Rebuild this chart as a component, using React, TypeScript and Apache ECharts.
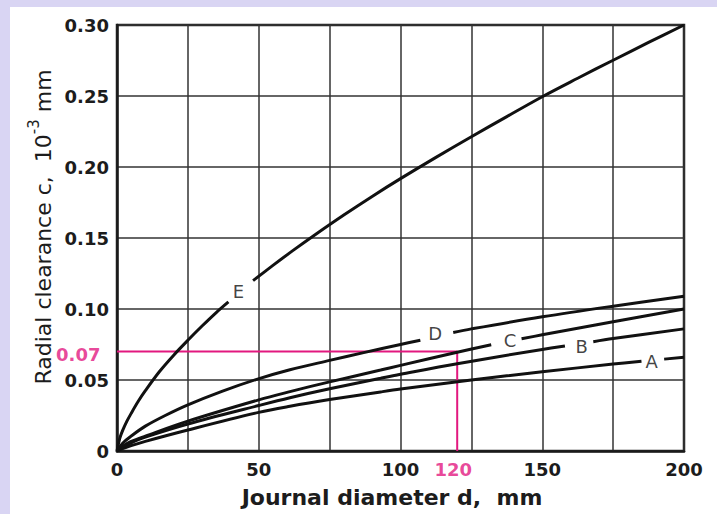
import React, { useEffect, useRef } from "react";
import * as echarts from "echarts";

// Curves: [diameter d (mm), radial clearance c]; null marks the gap left for the curve's letter
const curveA: (number[] | null)[] = [
  [0, 0], [2, 0.0017], [5, 0.0038], [10, 0.0068], [25, 0.0148], [50, 0.0272], [61, 0.0315],
  [75, 0.0362], [93, 0.0416], [100, 0.0436], [125, 0.05], [150, 0.0558], [175, 0.0612], [185, 0.0632],
  null,
  [193, 0.0647], [200, 0.066],
];
const curveB: (number[] | null)[] = [
  [0, 0], [2, 0.0027], [5, 0.0058], [10, 0.0098], [25, 0.019], [50, 0.032], [61, 0.0375],
  [75, 0.0438], [93, 0.0512], [100, 0.054], [120, 0.0615], [150, 0.0715], [158, 0.074],
  null,
  [168, 0.077], [175, 0.0792], [200, 0.086],
];
const curveC: (number[] | null)[] = [
  [0, 0], [2, 0.0033], [5, 0.0067], [10, 0.0105], [25, 0.021], [50, 0.036], [61, 0.0418],
  [75, 0.0487], [93, 0.057], [100, 0.0603], [120, 0.0695], [132, 0.0748],
  null,
  [142.7, 0.079], [150, 0.0818], [175, 0.091], [200, 0.1],
];
const curveD: (number[] | null)[] = [
  [0, 0], [2, 0.0055], [5, 0.0105], [10, 0.0175], [17, 0.025], [25, 0.0325], [37, 0.042],
  [49, 0.0503], [61, 0.0572], [75, 0.0638], [87, 0.0693], [100, 0.075], [107, 0.078],
  null,
  [118.6, 0.0835], [125, 0.086], [150, 0.0945], [175, 0.102], [200, 0.109],
];
const curveE: (number[] | null)[] = [
  [0, 0], [1, 0.009], [2, 0.0145], [3.5, 0.021], [5, 0.0265], [7.5, 0.035], [10, 0.0425],
  [15, 0.056], [20, 0.0675], [25, 0.078], [30, 0.088], [35, 0.0975], [39.3, 0.105],
  null,
  [48, 0.12], [55, 0.1307], [62, 0.1411], [70, 0.1525], [80, 0.1662], [90, 0.1793],
  [100, 0.1918], [112.5, 0.2068], [125, 0.2213], [137.5, 0.2355], [150, 0.2495],
  [162.5, 0.2625], [175, 0.2752], [187.5, 0.2877], [200, 0.3],
];

const labelNames = ["A", "B", "C", "D", "E"];
const labelX = [188.6, 163.9, 138.6, 112.2, 42.8];
const labelY = [0.0629, 0.0735, 0.078, 0.0824, 0.1122];

// Worked example: d = 120 mm -> c = 0.07
const exampleD = 120;
const exampleC = 0.07;

const X_MIN = 0, X_MAX = 200, X_STEP = 25;
const Y_MIN = 0, Y_MAX = 0.3, Y_STEP = 0.05;

const INK = "#1c1c1c";
const PINK = "#e2187f";
const FONT = "DejaVu Sans";

function segments(curve: (number[] | null)[]): number[][][] {
  const out: number[][][] = [];
  let cur: number[][] = [];
  for (const p of curve) {
    if (p === null) {
      if (cur.length) out.push(cur);
      cur = [];
    } else cur.push(p);
  }
  if (cur.length) out.push(cur);
  return out;
}

export default function App() {
  const ref = useRef<HTMLDivElement>(null);

  useEffect(() => {
    if (!ref.current) return;
    const chart = echarts.init(ref.current, undefined, { renderer: "svg" });

    const curveSeries: any[] = [];
    [curveA, curveB, curveC, curveD, curveE].forEach((c, i) => {
      segments(c).forEach((seg, j) => {
        curveSeries.push({
          name: labelNames[i] + j,
          type: "line",
          data: seg,
          showSymbol: false,
          smooth: 0.35,
          lineStyle: { color: "#111", width: 3 },
          z: 5,
          silent: true,
        });
      });
    });

    chart.setOption({
      animation: false,
      backgroundColor: "transparent",
      grid: {
        left: 107,
        right: 33,
        top: 18,
        bottom: 63,
        show: true,
        borderColor: "#222",
        borderWidth: 2.5,
      },
      xAxis: {
        type: "value",
        min: X_MIN,
        max: X_MAX,
        interval: X_STEP,
        axisLine: { show: true, lineStyle: { color: "#1a1a1a", width: 2.5 } },
        axisTick: { show: false },
        splitLine: { show: true, lineStyle: { color: "#333", width: 1.5 } },
        axisLabel: {
          margin: 9,
          color: INK,
          fontFamily: FONT,
          fontWeight: "bold",
          fontSize: 18,
          formatter: (v: number) => (v % 50 === 0 ? String(v) : ""),
        },
      },
      yAxis: {
        type: "value",
        min: Y_MIN,
        max: Y_MAX,
        interval: Y_STEP,
        axisLine: { show: true, lineStyle: { color: "#1a1a1a", width: 2.5 } },
        axisTick: { show: false },
        splitLine: { show: true, lineStyle: { color: "#333", width: 1.5 } },
        axisLabel: {
          margin: 8,
          color: INK,
          fontFamily: FONT,
          fontWeight: "bold",
          fontSize: 18,
          formatter: (v: number) => (v === 0 ? "0" : v.toFixed(2)),
        },
      },
      graphic: [
        {
          type: "text",
          x: 382,
          y: 490,
          style: {
            text: "Journal diameter d,  mm",
            fill: INK,
            font: `bold 22px "${FONT}"`,
            align: "center",
            verticalAlign: "middle",
          },
        },
        {
          type: "text",
          x: 30,
          y: 220,
          rotation: Math.PI / 2,
          style: {
            text: "{t|Radial clearance c,  10}{s|-3}{t| mm}",
            fill: INK,
            align: "center",
            verticalAlign: "middle",
            rich: {
              t: { fontFamily: FONT, fontSize: 22, lineHeight: 28, verticalAlign: "bottom", fill: INK },
              s: { fontFamily: FONT, fontSize: 15, lineHeight: 16, verticalAlign: "top", fill: INK },
            },
          },
        },
      ],
      series: [
        {
          name: "example",
          type: "line",
          data: [[X_MIN, exampleC], [exampleD, exampleC], [exampleD, Y_MIN]],
          showSymbol: false,
          lineStyle: { color: PINK, width: 2 },
          z: 3,
          silent: true,
        },
        ...curveSeries,
        {
          name: "letters",
          type: "scatter",
          data: labelX.map((x, i) => ({ value: [x, labelY[i]], name: labelNames[i] })),
          symbolSize: 1,
          itemStyle: { color: "rgba(0,0,0,0)" },
          label: {
            show: true,
            position: "inside",
            formatter: (p: any) => p.name,
            color: "#111",
            fontFamily: FONT,
            fontSize: 18,
          },
          z: 6,
          silent: true,
        },
        {
          name: "exampleLabels",
          type: "scatter",
          data: [
            { value: [X_MIN, exampleC], name: "0.07", label: { position: "left", distance: 16, offset: [0, 3] } },
            { value: [exampleD, Y_MIN], name: "120", label: { position: "bottom", distance: 9, offset: [-4, 0] } },
          ],
          symbolSize: 1,
          itemStyle: { color: "rgba(0,0,0,0)" },
          label: {
            show: true,
            formatter: (p: any) => p.name,
            color: PINK,
            fontFamily: FONT,
            fontWeight: "bold",
            fontSize: 18,
          },
          z: 6,
          silent: true,
        },
      ],
    });

    return () => chart.dispose();
  }, []);

  return (
    <div
      style={{
        position: "absolute",
        left: 0,
        top: 0,
        width: 717,
        height: 514,
        background: "#d9d5f3",
        overflow: "hidden",
      }}
    >
      <div
        ref={ref}
        style={{
          position: "absolute",
          left: 10,
          top: 7,
          width: 707,
          height: 507,
          background: "#ffffff",
        }}
      />
    </div>
  );
}
